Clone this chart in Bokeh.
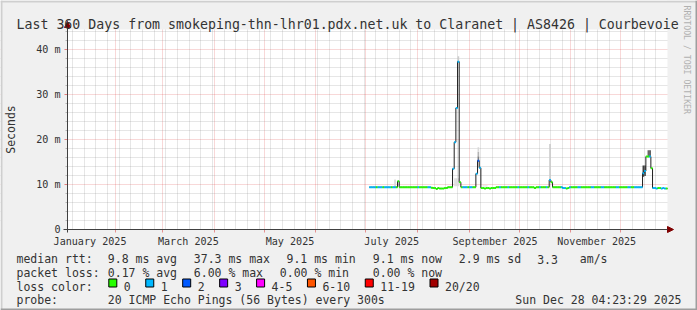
import math
import pandas as pd
from bokeh.plotting import figure
from bokeh.models import (Range1d, FixedTicker, DatetimeTickFormatter, Label, BoxAnnotation,
                          Arrow, NormalHead, ColumnDataSource)
from bokeh.transform import factor_cmap, linear_cmap
from bokeh.palettes import Greys256
from bokeh.embed import file_html
from bokeh.resources import INLINE

# ---------------- data ----------------
TITLE = "Last 360 Days from smokeping-thn-lhr01.pdx.net.uk to Claranet | AS8426 | Courbevoie"
RANGE_START = "2025-01-02 23:30"
RANGE_DAYS = 360
FIRST_DAY = "2025-07-03"

# daily median RTT in ms (Jul 3 .. Dec 28 2025)
median_ms = [
    9.4, 9.4, 9.4, 9.4, 9.4, 9.4, 9.4, 9.4, 9.4, 9.4, 9.4, 9.4, 9.4, 9.4, 9.4, 9.4, 9.4,
    10.7,
    9.4, 9.4, 9.4, 9.4, 9.4, 9.4, 9.4, 9.4, 9.4, 9.4, 9.4, 9.4, 9.4, 9.4, 9.4, 9.4, 9.4, 9.4, 9.4,
    9.3, 9.2, 9.2, 9.0, 9.2, 9.1, 9.1, 9.1, 9.2, 9.2,
    9.4, 9.4, 9.4,
    13.5, 19.4, 27.0, 37.3, 10.5,
    9.4, 9.4, 9.4, 9.4, 9.4, 9.4, 9.4, 9.4, 9.4,
    12.4, 15.3, 13.7,
    9.2, 9.2, 9.1, 9.2, 9.2, 9.1, 9.2,
    9.2, 9.2, 9.4, 9.4, 9.4, 9.4, 9.4, 9.4, 9.4, 9.4, 9.4, 9.4, 9.4, 9.4, 9.4, 9.4, 9.4,
    9.4, 9.4, 9.4, 9.4, 9.4, 9.4, 9.4, 9.4, 9.2, 9.4, 9.4, 9.4, 9.4, 9.4, 9.4, 9.4, 9.4,
    11.0, 10.5,
    9.4, 9.4, 9.4, 9.4, 9.4, 9.4, 9.2, 9.2, 9.1, 9.2, 9.4, 9.4, 9.4, 9.4, 9.4, 9.4, 9.4, 9.4,
    9.4, 9.4, 9.4, 9.4, 9.4, 9.4, 9.4, 9.4, 9.4, 9.4, 9.4, 9.4, 9.4, 9.4, 9.4, 9.4, 9.4, 9.4,
    9.4, 9.4, 9.4, 9.4, 9.4, 9.4, 9.4, 9.4, 9.4, 9.4, 9.4, 9.4, 9.4, 9.4, 9.4, 9.4, 9.4, 9.4,
    12.5, 13.0, 16.2, 16.2, 16.2, 13.6,
    9.2, 9.2, 9.1, 9.2, 9.2, 9.1, 9.2, 9.1, 9.1,
]

# daily loss class (index into LOSS_LABELS)
loss_class = [
    1, 1, 1, 1, 0, 1, 1, 1, 0, 1, 1, 1, 1, 0, 1, 1, 0,
    0,
    0, 0, 0, 0, 0, 0, 0, 0, 0, 0, 0, 1, 0, 0, 0, 0, 0, 1, 1,
    0, 0, 0, 0, 0, 0, 0, 0, 0, 0,
    0, 0, 0,
    1, 1, 1, 1, 0,
    0, 1, 1, 1, 0, 1, 1, 0, 0,
    1, 2, 1,
    0, 0, 0, 0, 0, 0, 0,
    0, 0, 0, 0, 1, 0, 0, 0, 0, 1, 0, 0, 0, 0, 0, 1, 0,
    0, 0, 0, 0, 1, 0, 0, 0, 0, 0, 0, 1, 0, 0, 0, 1, 0,
    1, 0,
    0, 0, 0, 0, 0, 1, 1, 1, 0, 0, 1, 0, 0, 0, 0, 1, 1, 0,
    0, 0, 0, 0, 0, 1, 1, 0, 0, 0, 0, 1, 1, 0, 0, 0, 0, 0,
    0, 0, 1, 1, 0, 0, 0, 0, 0, 1, 1, 0, 0, 1, 1, 1, 1, 1,
    1, 1, 0, 0, 1, 0,
    1, 1, 1, 0, 0, 1, 1, 1, 0,
]

LOSS_LABELS = ["0", "1", "2", "3", "4-5", "6-10", "11-19", "20/20"]
LOSS_COLORS = ["#26ff00", "#00b8ff", "#0059ff", "#7e00ff", "#ff00ff", "#ff5500", "#ff0000", "#a10000"]

# smoke (spread of the individual pings) on the days where it is visible
smoke_day = ["2025-07-18", "2025-08-23", "2025-08-24", "2025-08-25", "2025-08-25",
             "2025-09-06", "2025-09-06", "2025-09-06", "2025-09-09", "2025-09-10", "2025-09-11",
             "2025-10-19", "2025-12-14", "2025-12-15", "2025-12-17", "2025-12-18"]
smoke_lo = [9.5, 9.6, 9.6, 9.6, 37.4, 15.3, 16.3, 17.3, 9.5, 9.5, 9.5, 11.0, 11.7, 11.9, 16.2, 16.2]
smoke_hi = [11.1, 11.4, 11.4, 11.4, 38.5, 16.3, 17.3, 18.3, 9.9, 9.9, 9.9, 19.0, 14.2, 14.2, 17.6, 17.6]
smoke_density = [0.15, 0.13, 0.13, 0.13, 0.2, 0.5, 0.3, 0.15, 0.08, 0.08, 0.08, 0.2, 0.75, 0.7, 0.6, 0.7]

y_tick_values = [0, 10, 20, 30, 40]
y_tick_labels = ["0", "10 m", "20 m", "30 m", "40 m"]
y_minor_values = [2, 4, 6, 8, 12, 14, 16, 18, 22, 24, 26, 28, 32, 34, 36, 38, 42, 44]
x_label_months = ["2025-01", "2025-03", "2025-05", "2025-07", "2025-09", "2025-11"]

stats_median = ["median rtt:", "9.8 ms avg", "37.3 ms max", "9.1 ms min", "9.1 ms now", "2.9 ms sd", "3.3", "am/s"]
stats_loss = ["packet loss:", "0.17 % avg", "6.00 % max", "0.00 % min", "0.00 % now"]
probe_text = ["probe:", "20 ICMP Echo Pings (56 Bytes) every 300s"]
stamp_text = "Sun Dec 28 04:23:29 2025"
watermark = "RRDTOOL / TOBI OETIKER"
y_unit = "Seconds"

# ---------------- layout constants ----------------
W, H = 697, 310
FL, FR, FT, FB = 67, 667, 29, 229   # plot area edges in canvas pixels
PX_PER_MS = 4.5
FONT = "DejaVu Sans Mono"
TXT = "#333333"
BACK = "#f0f0f0"


def sx(X):
    return X


def sy(Y):
    return H - Y


def to_ms(t):
    return pd.Timestamp(t).value / 1e6


T0 = pd.Timestamp(RANGE_START)
T1 = T0 + pd.Timedelta(days=RANGE_DAYS)


def t_at(X):
    return T0 + pd.Timedelta(days=(X - FL) * RANGE_DAYS / (FR - FL))


def v_at(Y):
    return (FB - Y) / PX_PER_MS


# the frame covers the whole canvas; axes are pinned at the plot-area edges
p = figure(width=W, height=H, x_axis_type="datetime", output_backend="svg",
           toolbar_location=None, tools="",
           x_range=Range1d(t_at(0), t_at(W)), y_range=Range1d(v_at(H), v_at(0)),
           min_border=0)
p.background_fill_color = "white"
p.border_fill_color = BACK
p.outline_line_color = None

# ---- grids ----
month_starts = [d for d in pd.date_range("2025-01-01", "2026-01-01", freq="MS") if T0 < d < T1]
mondays = [d for d in pd.date_range("2024-12-30", "2026-01-05", freq="7D")
           if T0 < d < T1 and d.day != 1]
p.xgrid.ticker = FixedTicker(ticks=[to_ms(d) for d in month_starts],
                             minor_ticks=[to_ms(d) for d in mondays])
p.ygrid.ticker = FixedTicker(ticks=y_tick_values[1:], minor_ticks=y_minor_values)
for g in (p.xgrid, p.ygrid):
    g.grid_line_color = "#de5050"
    g.grid_line_alpha = 0.45
    g.grid_line_dash = "1 1"
    g.minor_grid_line_color = "#8f8f8f"
    g.minor_grid_line_alpha = 0.45
    g.minor_grid_line_dash = "1 1"

# masks so that grid lines stay inside the plot area
for (l, r, t, b) in [(0, W, 0, FT), (0, W, FB, H), (0, FL, 0, H), (FR, W, 0, H)]:
    p.add_layout(BoxAnnotation(left=sx(l), right=sx(r), top=sy(t), bottom=sy(b),
                               left_units="screen", right_units="screen", top_units="screen",
                               bottom_units="screen", fill_color=BACK, fill_alpha=1.0,
                               line_color=None, level="underlay"))

# ---- axes ----
label_ticks = [to_ms(pd.Timestamp(m + "-16 12:00")) for m in x_label_months]
xa = p.xaxis[0]
xa.fixed_location = 0
xa.ticker = FixedTicker(ticks=label_ticks, minor_ticks=[to_ms(d) for d in month_starts])
fmt = "%B %Y"
xa.formatter = DatetimeTickFormatter(microseconds=fmt, milliseconds=fmt, seconds=fmt, minsec=fmt,
                                     minutes=fmt, hourmin=fmt, hours=fmt, days=fmt, months=fmt,
                                     years=fmt)
xa.axis_line_color = None
xa.major_tick_out = 0
xa.major_tick_in = 0
xa.minor_tick_out = 3
xa.minor_tick_in = 0
xa.minor_tick_line_color = "#de5050"
xa.minor_tick_line_alpha = 0.6
xa.major_label_standoff = 3
xa.major_label_text_font = FONT
xa.major_label_text_font_size = "10.1px"
xa.major_label_text_color = TXT

ya = p.yaxis[0]
ya.fixed_location = to_ms(T0)
ya.ticker = FixedTicker(ticks=y_tick_values, minor_ticks=y_minor_values)
ya.major_label_overrides = {v: t for v, t in zip(y_tick_values, y_tick_labels)}
ya.axis_line_color = None
ya.major_tick_out = 3
ya.major_tick_in = 0
ya.major_tick_line_color = "#de5050"
ya.major_tick_line_alpha = 0.7
ya.minor_tick_out = 2
ya.minor_tick_in = 0
ya.minor_tick_line_color = "#8f8f8f"
ya.minor_tick_line_alpha = 0.6
ya.major_label_standoff = 4
ya.major_label_text_font = FONT
ya.major_label_text_font_size = "10.1px"
ya.major_label_text_color = TXT

# ---- data glyphs ----
days = pd.date_range(FIRST_DAY, periods=len(median_ms), freq="D")
one_day = pd.Timedelta(days=1)

sdays = pd.to_datetime(smoke_day)
smoke_src = ColumnDataSource(dict(left=sdays, right=sdays + one_day, lo=smoke_lo, hi=smoke_hi,
                                  density=smoke_density))
p.quad(left="left", right="right", bottom="lo", top="hi", source=smoke_src,
       fill_color=linear_cmap("density", list(reversed(Greys256)), 0, 1), line_color=None)

step_x = list(days) + [days[-1] + one_day]
step_y = list(median_ms) + [median_ms[-1]]
p.step(x=step_x, y=step_y, mode="after", line_color="#202020", line_width=1)

band_src = ColumnDataSource(dict(x0=days, x1=days + one_day, y=median_ms,
                                 loss=[LOSS_LABELS[i] for i in loss_class]))
p.segment(x0="x0", x1="x1", y0="y", y1="y", source=band_src, line_width=2,
          line_color=factor_cmap("loss", LOSS_COLORS, LOSS_LABELS), line_cap="butt")

# ---- axis lines with arrows ----
p.add_layout(Arrow(x_start=sx(FL - 4), y_start=sy(FB), x_end=sx(FR + 6), y_end=sy(FB),
                   start_units="screen", end_units="screen", line_color="#404040", line_width=1,
                   end=NormalHead(size=6, fill_color="#7f0000", line_color="#7f0000")))
p.add_layout(Arrow(x_start=sx(FL), y_start=sy(FB + 3), x_end=sx(FL), y_end=sy(FT - 8),
                   start_units="screen", end_units="screen", line_color="#404040", line_width=1,
                   end=NormalHead(size=6, fill_color="#7f0000", line_color="#7f0000")))


# ---- texts ----
def add_text(X, Y, text, size="11.5px", align="left", color=TXT, angle=0.0, baseline="alphabetic"):
    p.add_layout(Label(x=sx(X), y=sy(Y), x_units="screen", y_units="screen", text=text,
                       text_font=FONT, text_font_size=size, text_color=color,
                       text_align=align, text_baseline=baseline, angle=angle))


add_text(16, 24, TITLE, size="13.25px")
add_text(686, 5, watermark, size="8.2px", color="#b0b0b0", angle=-math.pi / 2, baseline="middle")
add_text(10, (FT + FB) / 2, y_unit, size="11.5px", align="center", angle=math.pi / 2,
         baseline="middle")

row_y = [258.7, 272.4, 286.1, 299.8]
for X, t in zip([16, 107.3, 193.3, 286.0, 372.3, 458.3, 536.7, 579.3], stats_median):
    add_text(X, row_y[0], t)
for X, t in zip([16, 107.3, 193.3, 279.3, 372.3], stats_loss):
    add_text(X, row_y[1], t)
add_text(16, row_y[2], "loss color:")
bx = 108.3
for lab, col in zip(LOSS_LABELS, LOSS_COLORS):
    p.add_layout(BoxAnnotation(left=sx(bx), right=sx(bx + 8), top=sy(278.5), bottom=sy(286.5),
                               left_units="screen", right_units="screen", top_units="screen",
                               bottom_units="screen", fill_color=col, fill_alpha=1.0,
                               line_color="black", line_alpha=1.0, line_width=1))
    add_text(bx + 15, row_y[2], lab)
    bx += 15 + len(lab) * 6.95 + 15
add_text(16, row_y[3], probe_text[0])
add_text(107.3, row_y[3], probe_text[1])
add_text(681, row_y[3], stamp_text, align="right")

# ---- outer 3D frame ----
for (l, r, t, b, c) in [(0, W, 0, 2, "#cfcfcf"), (0, 2, 0, H, "#cfcfcf"),
                        (W - 2, W, 0, H, "#9e9e9e"), (0, W, H - 2, H, "#9e9e9e")]:
    p.add_layout(BoxAnnotation(left=sx(l), right=sx(r), top=sy(t), bottom=sy(b),
                               left_units="screen", right_units="screen", top_units="screen",
                               bottom_units="screen", fill_color=c, fill_alpha=1.0,
                               line_color=None))

open("out.html", "w").write(file_html(p, INLINE))
